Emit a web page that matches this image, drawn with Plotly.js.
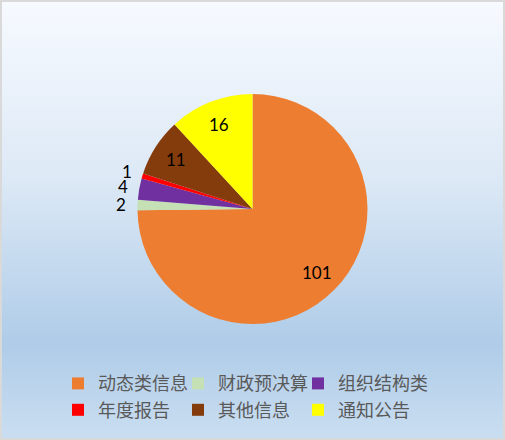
<!DOCTYPE html>
<html>
<head>
<meta charset="utf-8">
<script src="https://cdn.plot.ly/plotly-3.0.1.min.js"></script>
<style>
  html, body { margin: 0; padding: 0; }
  #chart {
    width: 505px; height: 440px;
    background: linear-gradient(to bottom, #f7faff 0%, #dde9f6 40%, #afcce8 78%, #cadef1 100%);
    box-shadow: inset 0 0 0 2px #d9d9d9;
  }
</style>
</head>
<body>
<div id="chart"></div>
<script>
var categories = ["动态类信息", "财政预决算", "组织结构类", "年度报告", "其他信息", "通知公告"];
var counts = [101, 2, 4, 1, 11, 16];
var sliceColors = ["#ED7D31", "#C5E0B4", "#7030A0", "#FF0000", "#843C0C", "#FFFF00"];
var labelInside = [true, false, false, false, true, true];

var W = 505, H = 440;
var margin = { t: 0, b: 0, l: 20, r: 20 };
var pieDomainY = [0.2636, 0.7864];

var pie = {
  type: "pie",
  labels: categories,
  values: counts,
  textinfo: "none",
  sort: false,
  direction: "clockwise",
  rotation: 0,
  marker: { colors: sliceColors, line: { width: 0 } },
  domain: { x: [0, 1], y: pieDomainY },
  hoverinfo: "none"
};

// data labels placed like Excel: inside at ~0.79R, outside just past the rim
var plotW = W - margin.l - margin.r;
var plotH = H - margin.t - margin.b;
var radius = (pieDomainY[1] - pieDomainY[0]) * plotH / 2;
var cy = (pieDomainY[0] + pieDomainY[1]) / 2;
var total = counts.reduce(function(a, b){ return a + b; }, 0);
var annotations = [];
var cum = 0;
counts.forEach(function(v, i){
  var mid = (cum + v / 2) / total * 2 * Math.PI;
  cum += v;
  var r = radius * (labelInside[i] ? 0.79 : 1.14);
  annotations.push({
    xref: "paper", yref: "paper",
    x: 0.5 + r * Math.sin(mid) / plotW,
    y: cy + r * Math.cos(mid) / plotH,
    text: String(v),
    showarrow: false,
    xanchor: "center", yanchor: "middle",
    font: { family: "Lato, 'Liberation Sans', sans-serif", size: 17, color: "#000000" }
  });
});

var layout = {
  width: W,
  height: H,
  margin: margin,
  paper_bgcolor: "rgba(0,0,0,0)",
  plot_bgcolor: "rgba(0,0,0,0)",
  showlegend: true,
  annotations: annotations,
  legend: {
    orientation: "h",
    x: (58 - margin.l) / plotW, xanchor: "left",
    y: 0.17, yanchor: "top",
    entrywidth: 75,
    font: { family: "'Noto Sans CJK SC', sans-serif", size: 18, color: "#595959" },
    bgcolor: "rgba(0,0,0,0)"
  }
};

Plotly.newPlot("chart", [pie], layout, {displayModeBar: false, staticPlot: true}).then(function(gd){
  // the last legend column runs past the legend box; let it show in full
  gd.querySelectorAll(".legend .scrollbox, .legend").forEach(function(el){
    el.removeAttribute("clip-path");
  });
});
</script>
</body>
</html>
